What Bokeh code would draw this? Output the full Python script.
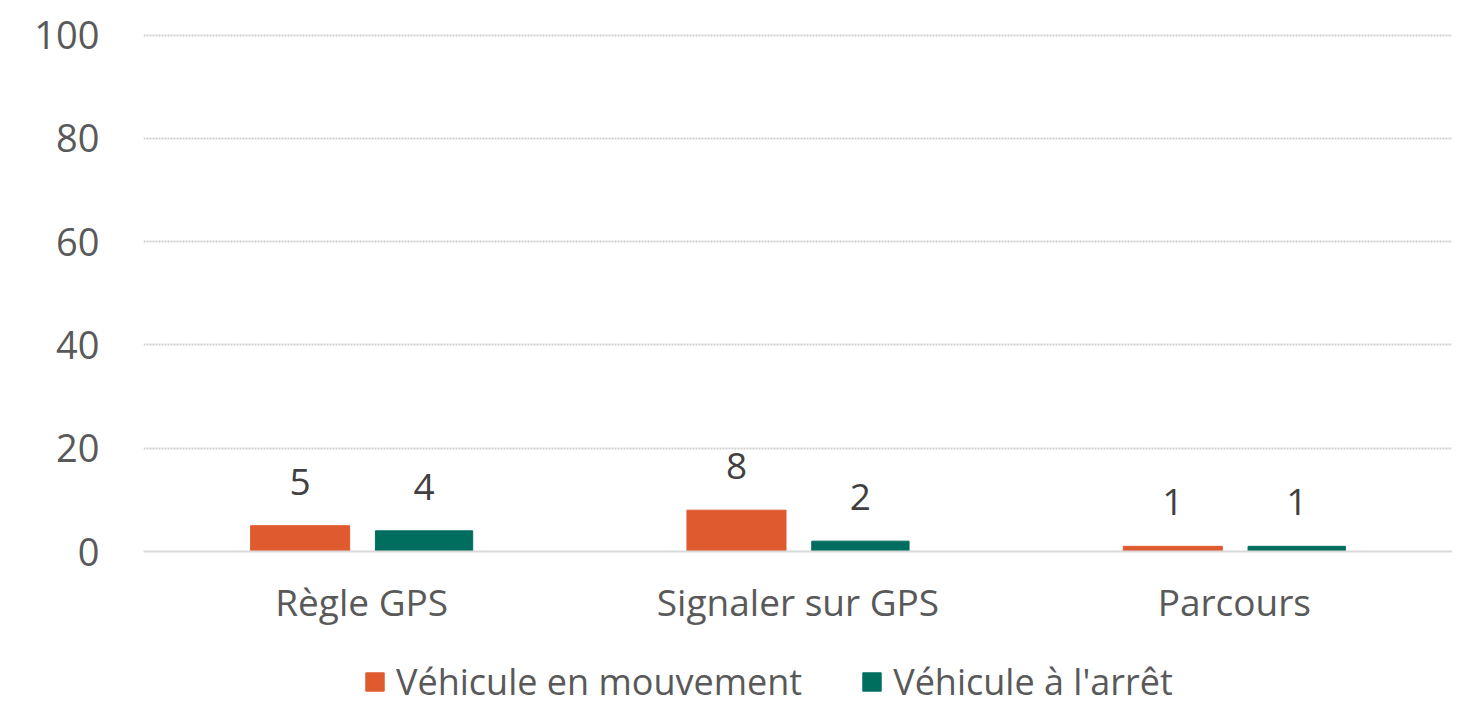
from bokeh.plotting import figure
from bokeh.layouts import column
from bokeh.models import ColumnDataSource, FactorRange, Legend, LegendItem, LabelSet
from bokeh.transform import dodge
from bokeh.core.properties import value
from bokeh.embed import file_html
from bokeh.resources import INLINE

categories = ["Règle GPS", "Signaler sur GPS", "Parcours"]
series_names = ["Véhicule en mouvement", "Véhicule à l'arrêt"]
moving = [5, 8, 1]
stopped = [4, 2, 1]
y_ticks = [0, 20, 40, 60, 80, 100]

FONT = "Open Sans"
TXT = "#595959"
ORANGE = "#E05A30"
GREEN = "#006E5F"

src = ColumnDataSource(dict(
    cat=categories, moving=moving, stopped=stopped,
    moving_lbl=[str(v) for v in moving], stopped_lbl=[str(v) for v in stopped],
))

p = figure(x_range=FactorRange(*categories), y_range=(0, 100.3),
           width=1452, height=646, output_backend="svg", toolbar_location=None,
           min_border_left=143, min_border_right=0, min_border_top=33, min_border_bottom=95)
p.outline_line_color = None
p.background_fill_color = "white"

r1 = p.vbar(x=dodge("cat", -0.141, range=p.x_range), top="moving", width=0.227,
            source=src, fill_color=ORANGE, line_color=ORANGE)
r2 = p.vbar(x=dodge("cat", 0.143, range=p.x_range), top="stopped", width=0.223,
            source=src, fill_color=GREEN, line_color=GREEN)

for col, off in (("moving", -0.141), ("stopped", 0.143)):
    lbl = LabelSet(x=dodge("cat", off, range=p.x_range), y=col, text=col + "_lbl",
                   source=src, y_offset=44, text_align="center", text_baseline="middle",
                   text_font=value(FONT), text_font_size="37px", text_color="#404040")
    p.add_layout(lbl)

p.yaxis.ticker = y_ticks
p.yaxis.axis_line_color = None
p.yaxis.major_tick_line_color = None
p.yaxis.minor_tick_line_color = None
p.yaxis.major_label_standoff = 38
p.yaxis.major_label_text_font = FONT
p.yaxis.major_label_text_font_size = "38px"
p.yaxis.major_label_text_color = TXT

p.xaxis.axis_line_color = "#d9d9d9"
p.xaxis.axis_line_width = 2
p.xaxis.major_tick_line_color = None
p.xaxis.minor_tick_line_color = None
p.xaxis.major_label_standoff = 18
p.xaxis.major_label_text_font = FONT
p.xaxis.major_label_text_font_size = "37px"
p.xaxis.major_label_text_color = TXT

p.xgrid.grid_line_color = None
p.ygrid.grid_line_color = "#cfcfcf"
p.ygrid.grid_line_width = 2
p.ygrid.grid_line_dash = "2 1"

# legend strip below the chart
lf = figure(width=1452, height=60, x_range=(0, 1), y_range=(0, 1),
            output_backend="svg", toolbar_location=None,
            min_border_left=0, min_border_right=0, min_border_top=0, min_border_bottom=0)
lf.axis.visible = False
lf.grid.visible = False
lf.outline_line_color = None
d1 = lf.vbar(x=[-10], top=[-10], width=0.1, fill_color=ORANGE, line_color=ORANGE)
d2 = lf.vbar(x=[-10], top=[-10], width=0.1, fill_color=GREEN, line_color=GREEN)
legend = Legend(items=[LegendItem(label=series_names[0], renderers=[d1]),
                       LegendItem(label=series_names[1], renderers=[d2])],
                orientation="horizontal", location=(220, 0))
legend.label_text_font = FONT
legend.label_text_font_size = "36px"
legend.label_text_color = TXT
legend.glyph_width = 23
legend.glyph_height = 23
legend.label_standoff = 10
legend.spacing = 58
legend.border_line_color = None
legend.background_fill_alpha = 0
legend.margin = 0
legend.padding = 0
lf.add_layout(legend)

open("out.html", "w").write(file_html(column(p, lf, spacing=0), INLINE))
